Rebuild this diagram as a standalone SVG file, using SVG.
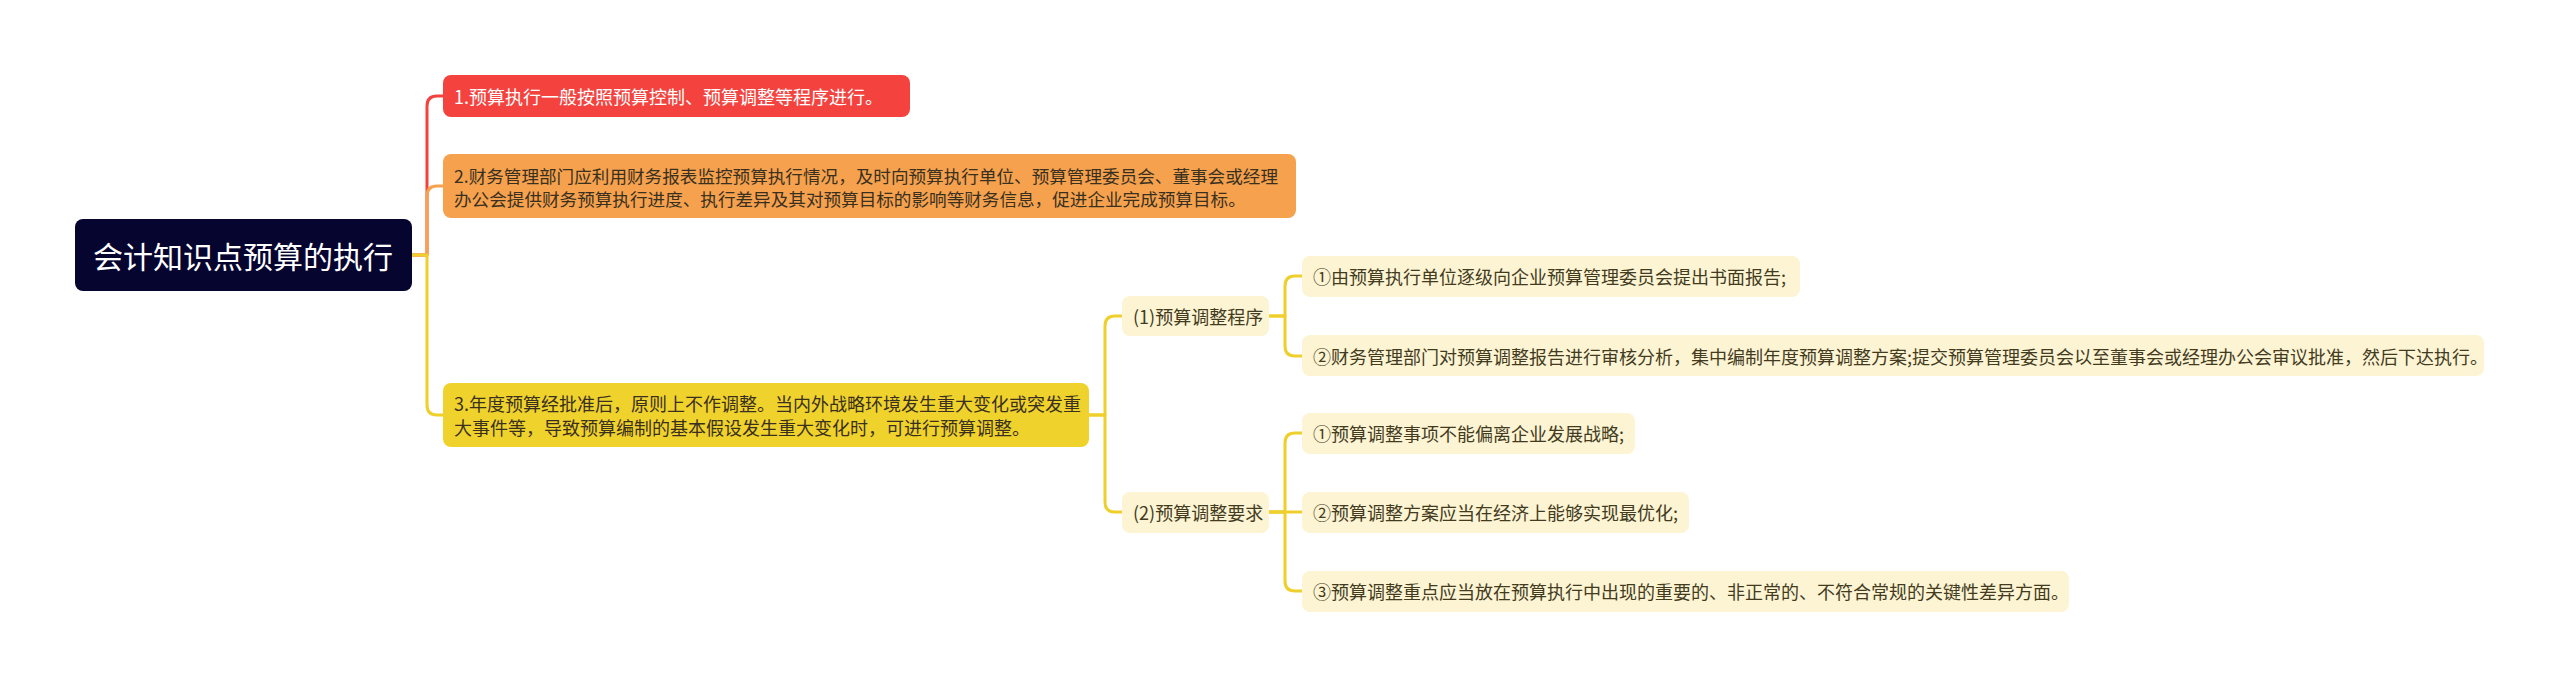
<svg xmlns="http://www.w3.org/2000/svg" width="2560" height="688" viewBox="0 0 2560 688">
<style>
text{font-family:"Noto Sans CJK SC","Noto Sans",sans-serif;font-size:18px;dominant-baseline:central}
.c{fill:none;stroke-width:3;stroke-linecap:round;stroke-linejoin:round}
.cr{stroke:#f4433f}.co{stroke:#f5a14e}.cy{stroke:#efcf2c}
.leaf{fill:#fcf4d3}
.lt{fill:#433b1e}
.dt{fill:#3a3020}
</style>
<rect width="2560" height="688" fill="#ffffff"/>
<g id="connectors">
<path class="c cr" d="M412,255 H427 V106 Q427,96 437,96 H443"/>
<path class="c co" d="M412,255 H427 V196 Q427,186 437,186 H443"/>
<path class="c cy" d="M412,255 H427 V405 Q427,415 437,415 H443"/>
<path class="c cy" d="M1089,415 H1105 V326 Q1105,316 1115,316 H1122"/>
<path class="c cy" d="M1089,415 H1105 V502 Q1105,512 1115,512 H1122"/>
<path class="c cy" d="M1269,316 H1285 V286 Q1285,276 1295,276 H1302"/>
<path class="c cy" d="M1269,316 H1285 V346 Q1285,356 1295,356 H1302"/>
<path class="c cy" d="M1269,512 H1285 V443 Q1285,433 1295,433 H1302"/>
<path class="c cy" d="M1269,512 H1302"/>
<path class="c cy" d="M1269,512 H1285 V581 Q1285,591 1295,591 H1302"/>
</g>
<g id="root">
<rect x="75" y="219" width="337" height="72" rx="8" fill="#050530"/>
<text x="243" y="255" text-anchor="middle" style="font-size:30px" fill="#ffffff">会计知识点预算的执行</text>
</g>
<g id="n1">
<rect x="443" y="75" width="467" height="42" rx="8" fill="#f4433f"/>
<text x="454" y="96" fill="#ffffff">1.预算执行一般按照预算控制、预算调整等程序进行。</text>
</g>
<g id="n2">
<rect x="443" y="154" width="853" height="64" rx="8" fill="#f5a14e"/>
<text x="454" y="175" class="dt" style="font-size:17.6px">2.财务管理部门应利用财务报表监控预算执行情况，及时向预算执行单位、预算管理委员会、董事会或经理</text>
<text x="454" y="198" class="dt" style="font-size:17.6px">办公会提供财务预算执行进度、执行差异及其对预算目标的影响等财务信息，促进企业完成预算目标。</text>
</g>
<g id="n3">
<rect x="443" y="383" width="646" height="64" rx="8" fill="#f0d22c"/>
<text x="454" y="403" class="dt">3.年度预算经批准后，原则上不作调整。当内外战略环境发生重大变化或突发重</text>
<text x="454" y="427" class="dt">大事件等，导致预算编制的基本假设发生重大变化时，可进行预算调整。</text>
</g>
<g id="s1">
<rect class="leaf" x="1122" y="296" width="147" height="40" rx="8"/>
<text x="1133" y="316" class="lt">(1)预算调整程序</text>
</g>
<g id="s2">
<rect class="leaf" x="1122" y="492" width="147" height="41" rx="8"/>
<text x="1133" y="512" class="lt">(2)预算调整要求</text>
</g>
<g id="l1">
<rect class="leaf" x="1302" y="256" width="498" height="41" rx="8"/>
<text x="1313" y="276" class="lt">①由预算执行单位逐级向企业预算管理委员会提出书面报告;</text>
</g>
<g id="l2">
<rect class="leaf" x="1302" y="335" width="1182" height="41" rx="8"/>
<text x="1313" y="356" class="lt">②财务管理部门对预算调整报告进行审核分析，集中编制年度预算调整方案;提交预算管理委员会以至董事会或经理办公会审议批准，然后下达执行。</text>
</g>
<g id="l3">
<rect class="leaf" x="1302" y="413" width="333" height="41" rx="8"/>
<text x="1313" y="433" class="lt">①预算调整事项不能偏离企业发展战略;</text>
</g>
<g id="l4">
<rect class="leaf" x="1302" y="492" width="387" height="41" rx="8"/>
<text x="1313" y="512" class="lt">②预算调整方案应当在经济上能够实现最优化;</text>
</g>
<g id="l5">
<rect class="leaf" x="1302" y="571" width="767" height="41" rx="8"/>
<text x="1313" y="591" class="lt">③预算调整重点应当放在预算执行中出现的重要的、非正常的、不符合常规的关键性差异方面。</text>
</g>
</svg>
